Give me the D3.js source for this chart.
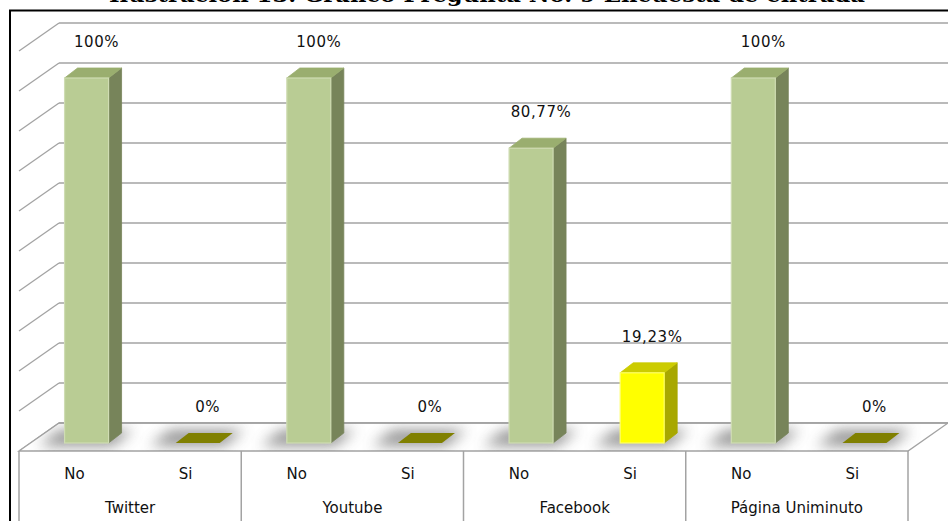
<!DOCTYPE html>
<html>
<head>
<meta charset="utf-8">
<script src="https://cdn.jsdelivr.net/npm/d3@7"></script>
<style>
  html, body { margin: 0; padding: 0; background: #fff; }
  svg { display: block; }
</style>
</head>
<body>
<svg id="chart" width="948" height="521"></svg>
<script>
// ---- data ----
const titleText = "Ilustración 13. Gráfico Pregunta No. 9 Encuesta de entrada";
const groups = ["Twitter", "Youtube", "Facebook", "Página Uniminuto"];
const answers = ["No", "Si"];
const noValues = [1.0, 1.0, 0.8077, 1.0];
const siValues = [0.0, 0.0, 0.1923, 0.0];
const gridLevels = [0, 0.1, 0.2, 0.3, 0.4, 0.5, 0.6, 0.7, 0.8, 0.9, 1.0];

// ---- setup ----
const svg = d3.select("#chart");
const W = 948, H = 521;
const locale = d3.formatLocale({decimal: ",", thousands: ".", grouping: [3], currency: ["", "€"], percent: "%"});
const fmt = locale.format(".2~%");

const floorFront = 451;       // y of floor front edge
const DX = 40, DY = -28;      // depth of the 3D box
const barDX = 13, barDY = -10; // depth of a bar
const barShift = 12;          // bar front-centre shift from band centre

const x0 = d3.scaleBand().domain(groups).range([19, 908]);
const x1 = d3.scaleBand().domain(answers).range([0, x0.bandwidth()]);
const yFront = d3.scaleLinear().domain([0, 1]).range([443, 78]);
const yBack = d3.scaleLinear().domain([0, 1]).range([423, 23]);
const barW = 44;

const rows = [];
groups.forEach((g, i) => {
  rows.push({group: g, answer: "No", value: noValues[i]});
  rows.push({group: g, answer: "Si", value: siValues[i]});
});

const defs = svg.append("defs");
defs.append("filter").attr("id", "blur").attr("x", "-50%").attr("y", "-200%").attr("width", "200%").attr("height", "500%")
  .append("feGaussianBlur").attr("stdDeviation", 7);
defs.append("clipPath").attr("id", "floorClip")
  .append("polygon")
  .attr("points", [[19, floorFront], [908, floorFront], [908 + DX, floorFront + DY], [19 + DX, floorFront + DY]].map(p => p.join(",")).join(" "));

// title (mostly cropped at top, as in the reference)
svg.append("text")
  .attr("x", 109).attr("y", 2)
  .attr("textLength", 756)
  .attr("lengthAdjust", "spacingAndGlyphs")
  .style("font-family", "'DejaVu Serif', 'Liberation Serif', serif")
  .style("font-weight", "bold")
  .style("font-size", "20px")
  .attr("fill", "#000")
  .text(titleText);

// outer frame
svg.append("rect")
  .attr("x", 10).attr("y", 10.5).attr("width", W + 10).attr("height", H + 10)
  .attr("fill", "#fff").attr("stroke", "#000").attr("stroke-width", 2);

const gridColor = "#a3a3a3";
// back-wall gridlines and left-wall diagonals
const grid = svg.append("g");
gridLevels.forEach(v => {
  const yb = yBack(v);
  grid.append("line")
    .attr("x1", 19 + DX).attr("x2", W + 2).attr("y1", yb).attr("y2", yb)
    .attr("stroke", gridColor).attr("stroke-width", 1.6);
  grid.append("line")
    .attr("x1", 19).attr("y1", yb - DY).attr("x2", 19 + DX).attr("y2", yb)
    .attr("stroke", gridColor).attr("stroke-width", 1.3);
});

// floor
svg.append("polygon")
  .attr("points", [[19, floorFront], [908, floorFront], [908 + DX, floorFront + DY], [19 + DX, floorFront + DY]].map(p => p.join(",")).join(" "))
  .attr("fill", "#fff").attr("stroke", gridColor).attr("stroke-width", 1.3);

// floor shadows
const shadowG = svg.append("g").attr("clip-path", "url(#floorClip)");
rows.forEach(d => {
  const cx = x0(d.group) + x1(d.answer) + x1.bandwidth() / 2 + barShift;
  const xf = cx - barW / 2;
  const yb = 446;
  const pts = [[xf - 26, yb], [xf + barW + 4, yb], [xf + barW + 4 + barDX * 1.6, yb + barDY * 1.6], [xf - 26 + barDX * 1.6, yb + barDY * 1.6]];
  shadowG.append("polygon")
    .attr("points", pts.map(p => p.join(",")).join(" "))
    .attr("fill", "#6e6e6e").attr("opacity", 0.75)
    .attr("filter", "url(#blur)");
});

// redraw floor back edge over shadow
svg.append("line")
  .attr("x1", 19 + DX).attr("x2", W + 2).attr("y1", yBack(0)).attr("y2", yBack(0))
  .attr("stroke", gridColor).attr("stroke-width", 1.6);

// bars
const palette = {
  No: {front: "#b9cc94", side: "#77845a", top: "#9aae6f", edge: "#cfdcb3", zero: "#9aae6f"},
  Si: {front: "#ffff00", side: "#a8a800", top: "#cccc00", edge: "#ffff66", zero: "#808000"}
};
const bars = svg.append("g");
rows.forEach(d => {
  const c = palette[d.answer];
  const cx = x0(d.group) + x1(d.answer) + x1.bandwidth() / 2 + barShift;
  const xf = cx - barW / 2;
  const y0 = yFront(0);
  const yt = yFront(d.value);
  if (d.value <= 0) {
    bars.append("polygon")
      .attr("points", [[xf, y0], [xf + barW, y0], [xf + barW + barDX, y0 + barDY], [xf + barDX, y0 + barDY]].map(p => p.join(",")).join(" "))
      .attr("fill", c.zero);
    return;
  }
  // side
  bars.append("polygon")
    .attr("points", [[xf + barW, yt], [xf + barW + barDX, yt + barDY], [xf + barW + barDX, y0 + barDY], [xf + barW, y0]].map(p => p.join(",")).join(" "))
    .attr("fill", c.side).attr("stroke", c.side).attr("stroke-width", 0.8).attr("stroke-linejoin", "round");
  // top
  bars.append("polygon")
    .attr("points", [[xf, yt], [xf + barDX, yt + barDY], [xf + barW + barDX, yt + barDY], [xf + barW, yt]].map(p => p.join(",")).join(" "))
    .attr("fill", c.top).attr("stroke", c.top).attr("stroke-width", 0.8).attr("stroke-linejoin", "round");
  // front
  bars.append("rect")
    .attr("x", xf).attr("y", yt).attr("width", barW).attr("height", y0 - yt)
    .attr("fill", c.front).attr("stroke", c.edge).attr("stroke-width", 1.2);
});

// data labels
const labelFont = "'DejaVu Sans', Verdana, sans-serif";
svg.append("g").selectAll("text").data(rows).join("text")
  .attr("x", d => x0(d.group) + x1(d.answer) + x1.bandwidth() / 2 + barShift + 10)
  .attr("y", d => yFront(d.value) - 31)
  .attr("text-anchor", "middle")
  .style("font-family", labelFont)
  .style("font-size", "15px")
  .style("letter-spacing", "0.6px")
  .attr("fill", "#111")
  .text(d => fmt(d.value));

// category box below floor
const catG = svg.append("g");
const sep = [19].concat(groups.map(g => x0(g) + x0.bandwidth()));
sep.forEach(x => {
  catG.append("line")
    .attr("x1", x).attr("x2", x).attr("y1", floorFront).attr("y2", H + 2)
    .attr("stroke", gridColor).attr("stroke-width", 1.5);
});
groups.forEach(g => {
  answers.forEach(a => {
    catG.append("text")
      .attr("x", x0(g) + x1(a) + x1.bandwidth() / 2)
      .attr("y", 479)
      .attr("text-anchor", "middle")
      .style("font-family", labelFont).style("font-size", "15px")
      .attr("fill", "#111")
      .text(a);
  });
  catG.append("text")
    .attr("x", x0(g) + x0.bandwidth() / 2)
    .attr("y", 513)
    .attr("text-anchor", "middle")
    .style("font-family", labelFont).style("font-size", "15px")
    .attr("fill", "#111")
    .text(g);
});
</script>
</body>
</html>
